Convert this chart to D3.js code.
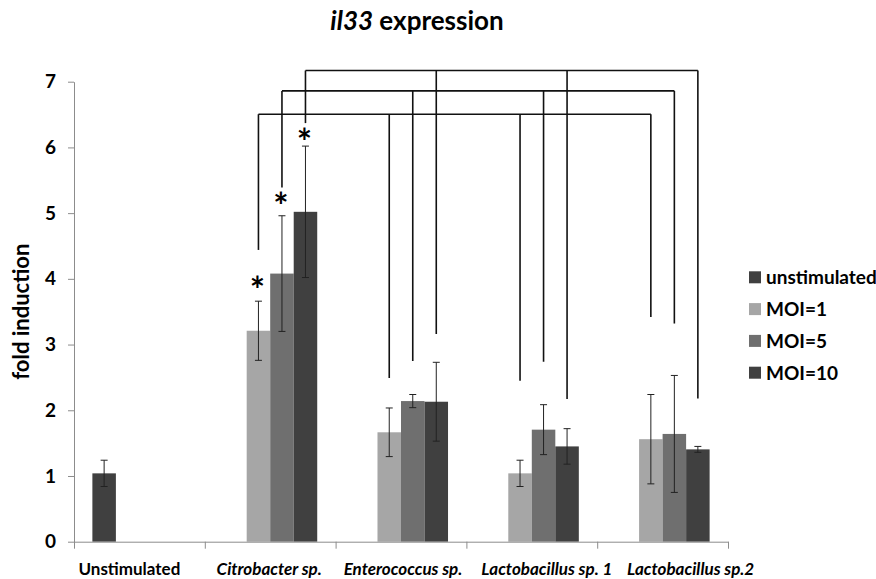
<!DOCTYPE html>
<html lang="en">
  <head>
    <meta charset="UTF-8" />
    <title>il33 expression</title>
    <script src="https://cdn.jsdelivr.net/npm/d3@7"></script>
    <style>
      body {
        padding: 0;
        margin: 0;
        background: #fff;
      }
      svg text {
        font-family: Lato, "Open Sans", sans-serif;
        font-weight: bold;
        fill: #000;
      }
    </style>
  </head>
  <body>
    <svg id="chart" width="876" height="579"></svg>

    <script>
      const categories = [
        "Unstimulated",
        "Citrobacter sp.",
        "Enterococcus sp.",
        "Lactobacillus sp. 1",
        "Lactobacillus sp.2",
      ];
      const series = ["unstimulated", "MOI=1", "MOI=5", "MOI=10"];
      const colors = ["#404040", "#a6a6a6", "#6f6f6f", "#404040"];

      // means per category (null = no bar)
      const unstimulated = [1.04, null, null, null, null];
      const moi1 = [null, 3.21, 1.665, 1.04, 1.56];
      const moi5 = [null, 4.08, 2.14, 1.705, 1.64];
      const moi10 = [null, 5.02, 2.13, 1.45, 1.405];

      // error bar half widths
      const errUnstimulated = [0.2, null, null, null, null];
      const errMoi1 = [null, 0.45, 0.37, 0.2, 0.68];
      const errMoi5 = [null, 0.88, 0.1, 0.38, 0.89];
      const errMoi10 = [null, 1.0, 0.6, 0.27, 0.045];

      const yTicks = [0, 1, 2, 3, 4, 5, 6, 7];

      // significance brackets: one level per MOI, drops for categories 1..4
      const bracketTop = [6.505, 6.86, 7.17];
      const dropMoi1 = [4.44, 2.49, 2.45, 3.42];
      const dropMoi5 = [5.39, 2.75, 2.74, 3.32];
      const dropMoi10 = [6.37, 3.16, 2.17, 2.18];
      const starY = [3.92, 5.2, 6.17];

      const svg = d3.select("#chart");
      const plotLeft = 74,
        plotRight = 728,
        plotTop = 81.7,
        plotBottom = 541.7;
      // category labels in the original sit a little off their centres
      const labelShift = [-10, -1, 2, 15, 28];

      const y = d3.scaleLinear().domain([0, 7]).range([plotBottom, plotTop]);
      const x0 = d3
        .scaleBand()
        .domain(categories)
        .range([plotLeft, plotRight])
        .paddingInner(0.281)
        .paddingOuter(0.1405);
      const x1 = d3
        .scaleBand()
        .domain(series)
        .range([0, x0.bandwidth()]);
      const xb = d3
        .scaleLinear()
        .domain([0, categories.length])
        .range([plotLeft, plotRight]);

      const means = [unstimulated, moi1, moi5, moi10];
      const errs = [errUnstimulated, errMoi1, errMoi5, errMoi10];

      const bars = [];
      series.forEach((s, si) => {
        categories.forEach((c, ci) => {
          if (means[si][ci] != null) {
            bars.push({ s: s, si: si, c: c, v: means[si][ci], e: errs[si][ci] });
          }
        });
      });

      const cx = (c, s) => x0(c) + x1(s) + x1.bandwidth() / 2;

      // bars
      svg
        .append("g")
        .selectAll("rect")
        .data(bars)
        .enter()
        .append("rect")
        .attr("x", (d) => x0(d.c) + x1(d.s))
        .attr("width", x1.bandwidth())
        .attr("y", (d) => y(d.v))
        .attr("height", (d) => y(0) - y(d.v))
        .attr("fill", (d) => colors[d.si]);

      // error bars
      const eg = svg
        .append("g")
        .attr("stroke", "#222")
        .attr("stroke-width", 1)
        .selectAll("g")
        .data(bars)
        .enter()
        .append("g");
      eg.append("line")
        .attr("x1", (d) => cx(d.c, d.s))
        .attr("x2", (d) => cx(d.c, d.s))
        .attr("y1", (d) => y(d.v - d.e))
        .attr("y2", (d) => y(d.v + d.e));
      [1, -1].forEach((sign) => {
        eg.append("line")
          .attr("x1", (d) => cx(d.c, d.s) - 3.5)
          .attr("x2", (d) => cx(d.c, d.s) + 3.5)
          .attr("y1", (d) => y(d.v + sign * d.e))
          .attr("y2", (d) => y(d.v + sign * d.e));
      });

      // axes
      const yAxis = svg
        .append("g")
        .attr("transform", `translate(${plotLeft},0)`)
        .call(
          d3
            .axisLeft(y)
            .tickValues(yTicks)
            .tickFormat(d3.format("d"))
            .tickSize(6)
            .tickSizeOuter(0)
            .tickPadding(12)
        );
      yAxis.selectAll("path, line").attr("stroke", "#8c8c8c");
      yAxis.selectAll("text").style("font-size", "19px");

      const xAxis = svg
        .append("g")
        .attr("transform", `translate(0,${plotBottom})`)
        .call(
          d3
            .axisBottom(xb)
            .tickValues(d3.range(categories.length + 1))
            .tickSize(7)
            .tickSizeOuter(0)
            .tickFormat("")
        );
      xAxis.selectAll("path, line").attr("stroke", "#8c8c8c");

      svg
        .append("g")
        .selectAll("text")
        .data(categories)
        .enter()
        .append("text")
        .attr("x", (d, i) => x0(d) + x0.bandwidth() / 2 + labelShift[i])
        .attr("y", 575)
        .attr("text-anchor", "middle")
        .style("font-size", "17px")
        .style("font-style", (d, i) => (i === 0 ? "normal" : "italic"))
        .text((d) => d);

      // y label
      svg
        .append("text")
        .attr("transform", "rotate(-90)")
        .attr("x", -(plotTop + plotBottom) / 2)
        .attr("y", 29)
        .attr("text-anchor", "middle")
        .style("font-size", "22px")
        .text("fold induction");

      // title
      const title = svg
        .append("text")
        .attr("x", 417)
        .attr("y", 30)
        .attr("text-anchor", "middle")
        .style("font-size", "26px");
      title.append("tspan").style("font-style", "italic").text("il33");
      title.append("tspan").text(" expression");

      // brackets
      const drops = [dropMoi1, dropMoi5, dropMoi10];
      const moiSeries = series.slice(1);
      const bg = svg
        .append("g")
        .attr("stroke", "#111")
        .attr("stroke-width", 1.6)
        .attr("fill", "none");
      moiSeries.forEach((s, li) => {
        const cats = categories.slice(1);
        bg.append("line")
          .attr("x1", cx(cats[0], s))
          .attr("x2", cx(cats[cats.length - 1], s))
          .attr("y1", y(bracketTop[li]))
          .attr("y2", y(bracketTop[li]));
        cats.forEach((c, ci) => {
          bg.append("line")
            .attr("x1", cx(c, s))
            .attr("x2", cx(c, s))
            .attr("y1", y(bracketTop[li]))
            .attr("y2", y(drops[li][ci]));
        });
      });

      // asterisks
      svg
        .append("g")
        .selectAll("text")
        .data(moiSeries)
        .enter()
        .append("text")
        .attr("x", (d) => cx(categories[1], d) - 1)
        .attr("y", (d, i) => y(starY[i]) + 19)
        .attr("text-anchor", "middle")
        .style("font-size", "36px")
        .text("*");

      // legend
      const legend = svg
        .append("g")
        .selectAll("g")
        .data(series)
        .enter()
        .append("g")
        .attr("transform", (d, i) => `translate(749,${277.3 + i * 31.8})`);
      legend
        .append("rect")
        .attr("x", 0)
        .attr("y", -6)
        .attr("width", 12)
        .attr("height", 12)
        .attr("fill", (d, i) => colors[i]);
      legend
        .append("text")
        .attr("x", 17)
        .attr("y", 7)
        .style("font-size", "19px")
        .text((d) => d);
    </script>
  </body>
</html>
